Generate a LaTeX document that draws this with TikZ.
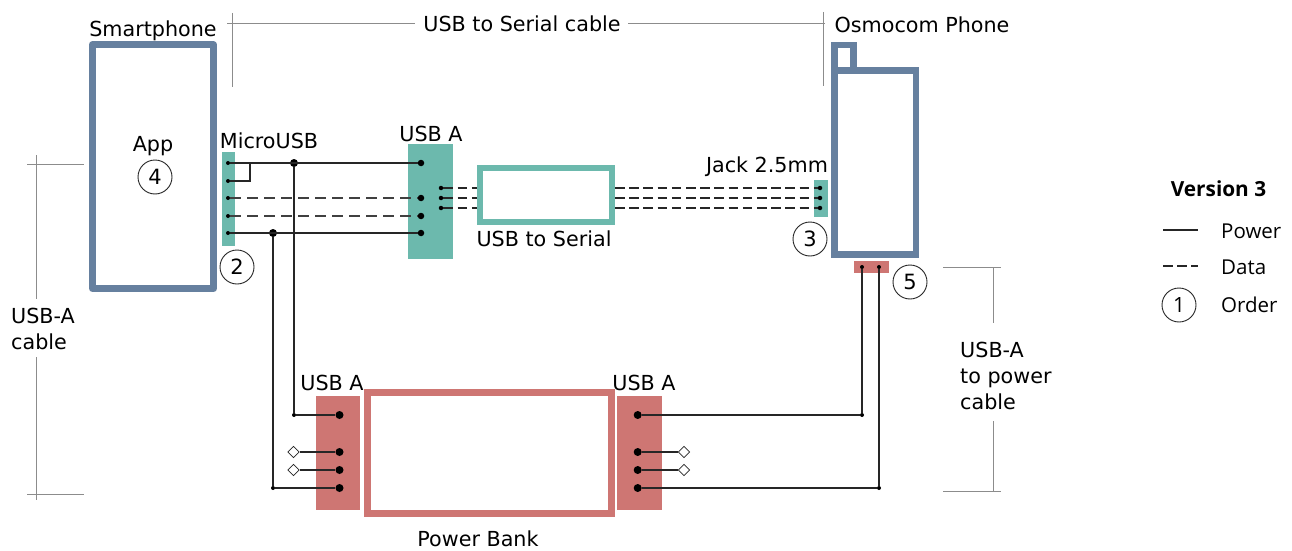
\documentclass[tikz,border=0pt]{standalone}
\usepackage{fontspec}
\setmainfont{DejaVu Sans}
\newfontfamily\legendfont{Open Sans}
\usetikzlibrary{shapes.geometric}
\definecolor{phoneblue}{HTML}{66809F}
\definecolor{usbteal}{HTML}{6CB9AD}
\definecolor{powerred}{HTML}{CE7673}
\begin{document}
\begin{tikzpicture}[x=1pt, y=-1pt,
			line join=miter, line cap=butt,
			every node/.style = {inner sep=0pt, font=\fontsize{20.7}{26}\selectfont},
			wire/.style = {draw=black!85, line width=1.4pt},
			datawire/.style = {draw=black!75, line width=1.3pt, dash pattern=on 11pt off 6pt},
			shortdash/.style = {draw=black!85, line width=1.5pt, dash pattern=on 9.5pt off 4.7pt},
			dim/.style = {draw=black!45, line width=.8pt},
			pin/.style = {circle, fill=black, minimum size=8pt},
			usbpin/.style = {circle, fill=black, minimum size=6.5pt},
			tinypin/.style = {circle, fill=black, minimum size=4pt},
			open/.style = {diamond, draw=black!85, fill=white, line width=.7pt, minimum size=11.5pt},
			order/.style = {circle, draw=black!85, line width=.9pt, minimum size=34pt, font=\fontsize{21}{24}\selectfont},
			legend/.style = {anchor=west, font=\legendfont\fontsize{20.5}{24}\selectfont}
			]
			\useasboundingbox (0,0) rectangle (1292,551);
			\fill[white] (0,0) rectangle (1292,551);

			\draw[phoneblue, line width=7pt, line join=round] (92.5,44.7) rectangle (213.5,288.5);
			\draw[phoneblue, line width=6.5pt] (834.5,70.5) rectangle (916,254.5);
			\draw[phoneblue, line width=6.5pt] (834.5,70.5) -- (834.5,45) -- (853.5,45) -- (853.5,70.5);
			\draw[usbteal, line width=6pt] (480,168) rectangle (611.5,222);
			\draw[powerred, line width=6.5pt] (367.5,392.5) rectangle (611.5,513.5);

			\fill[usbteal] (222,152) rectangle (234.7,246);
			\fill[usbteal] (408,144) rectangle (453,258.5);
			\fill[usbteal] (814.3,180) rectangle (827.7,217);
			\fill[powerred] (854,260.7) rectangle (888.7,273);
			\fill[powerred] (315.7,396) rectangle (360,510);
			\fill[powerred] (617.3,396) rectangle (661.7,510);

			\foreach \name/\ypos in {a/163,b/181,c/198,d/216,e/233} {
				\node[tinypin] (micro\name) at (228,\ypos) {};
			}
			\foreach \name/\ypos in {a/163,c/198,d/216,e/233} {
				\node[usbpin] (usb\name) at (421,\ypos) {};
			}
			\foreach \name/\ypos in {a/188,b/198,c/208} {
				\node[tinypin, minimum size=4.5pt] (serial\name) at (441,\ypos) {};
				\node[tinypin, minimum size=4.5pt] (jack\name) at (820,\ypos) {};
				\coordinate (boxl\name) at (477,\ypos);
				\coordinate (boxr\name) at (615,\ypos);
				\draw[shortdash] (serial\name) -- (boxl\name);
				\draw[shortdash] (boxr\name) -- (jack\name);
			}
			\foreach \name/\ypos in {a/415,b/452,c/470,d/488} {
				\node[pin] (left\name) at (339.5,\ypos) {};
				\node[pin] (right\name) at (637.7,\ypos) {};
			}
			\node[pin] (joina) at (294,163) {};
			\node[pin] (joinb) at (273,233) {};
			\node[tinypin] (joinc) at (294,415) {};
			\node[tinypin] (joind) at (273,488) {};
			\node[tinypin] (joine) at (862,415) {};
			\node[tinypin] (joinf) at (879,488) {};
			\node[tinypin] (redpina) at (862,267) {};
			\node[tinypin] (redpinb) at (879,267) {};
			\node[open] (opena) at (293.5,452) {};
			\node[open] (openb) at (293.5,470) {};
			\node[open] (openc) at (684,452) {};
			\node[open] (opend) at (684,470) {};

			\draw[wire] (microa) -- (usba);
			\draw[wire] (microe) -- (usbe);
			\draw[wire] (microa) -| (250,181) -- (microb);
			\draw[datawire] (microc) -- (usbc);
			\draw[datawire] (microd) -- (usbd);
			\draw[wire] (joina) -- (joinc) -- (lefta);
			\draw[wire] (joinb) -- (joind) -- (leftd);
			\draw[wire] (opena) -- (leftb);
			\draw[wire] (openb) -- (leftc);
			\draw[wire] (openc) -- (rightb);
			\draw[wire] (opend) -- (rightc);
			\draw[wire] (righta) -- (joine) -- (redpina);
			\draw[wire] (rightd) -- (joinf) -- (redpinb);

			\node (cabletop) at (522,24) {USB to Serial cable};
			\node (smartphone) at (153,31) {Smartphone};
			\node (osmocom) at (922,25) {Osmocom Phone};
			\node (app) at (153,146) {App};
			\node (microlabel) at (269,141) {MicroUSB};
			\node (usblabel) at (431,134) {USB A};
			\node (seriallabel) at (544,239) {USB to Serial};
			\node (jacklabel) at (767,167) {Jack 2.5mm};
			\node (usbleft) at (332,383) {USB A};
			\node (usbright) at (644,383) {USB A};
			\node (bank) at (478,539) {Power Bank};
			\node[align=left, anchor=west] (cableleft) at (11,329) {USB-A\\cable};
			\node[align=left, anchor=west] (cableright) at (960,376) {USB-A\\to power\\cable};

			\node[order] (orderapp) at (155,177) {4};
			\node[order] (ordermicro) at (237,267) {2};
			\node[order] (orderjack) at (810,239) {3};
			\node[order] (orderred) at (910,282) {5};

			\coordinate (topla) at (232,13);
			\coordinate (toplb) at (232,87);
			\coordinate (topra) at (823,12);
			\coordinate (toprb) at (823,86);
			\coordinate (linela) at (227,23.5);
			\coordinate (linelb) at (415,23.5);
			\coordinate (linera) at (628,23.5);
			\coordinate (linerb) at (825,23.5);
			\draw[dim] (topla) -- (toplb);
			\draw[dim] (topra) -- (toprb);
			\draw[dim] (linela) -- (linelb);
			\draw[dim] (linera) -- (linerb);

			\coordinate (leftta) at (27,164);
			\coordinate (lefttb) at (84,164);
			\coordinate (leftba) at (27,494);
			\coordinate (leftbb) at (84,494);
			\coordinate (leftva) at (36,155);
			\coordinate (leftvb) at (36,299);
			\coordinate (leftvc) at (36,357);
			\coordinate (leftvd) at (36,500);
			\draw[dim] (leftta) -- (lefttb);
			\draw[dim] (leftba) -- (leftbb);
			\draw[dim] (leftva) -- (leftvb);
			\draw[dim] (leftvc) -- (leftvd);

			\coordinate (rightta) at (943,267);
			\coordinate (righttb) at (1001,267);
			\coordinate (rightba) at (943,491);
			\coordinate (rightbb) at (1001,491);
			\coordinate (rightva) at (993,267);
			\coordinate (rightvb) at (993,323);
			\coordinate (rightvc) at (993,421);
			\coordinate (rightvd) at (993,491);
			\draw[dim] (rightta) -- (righttb);
			\draw[dim] (rightba) -- (rightbb);
			\draw[dim] (rightva) -- (rightvb);
			\draw[dim] (rightvc) -- (rightvd);

			\node[font=\legendfont\bfseries\fontsize{20.8}{24}\selectfont] (version) at (1218.5,189) {Version 3};
			\node[legend] (power) at (1221,231) {Power};
			\node[legend] (data) at (1221,267) {Data};
			\node[legend] (orderlabel) at (1221,305) {Order};
			\coordinate (powerl) at (1163,230);
			\coordinate (powerr) at (1198,230);
			\coordinate (datal) at (1163,266);
			\coordinate (datar) at (1198,266);
			\draw[wire] (powerl) -- (powerr);
			\draw[shortdash] (datal) -- (datar);
			\node[order, font=\legendfont\fontsize{21}{24}\selectfont] (orderone) at (1179,305) {1};
\end{tikzpicture}
\end{document}
